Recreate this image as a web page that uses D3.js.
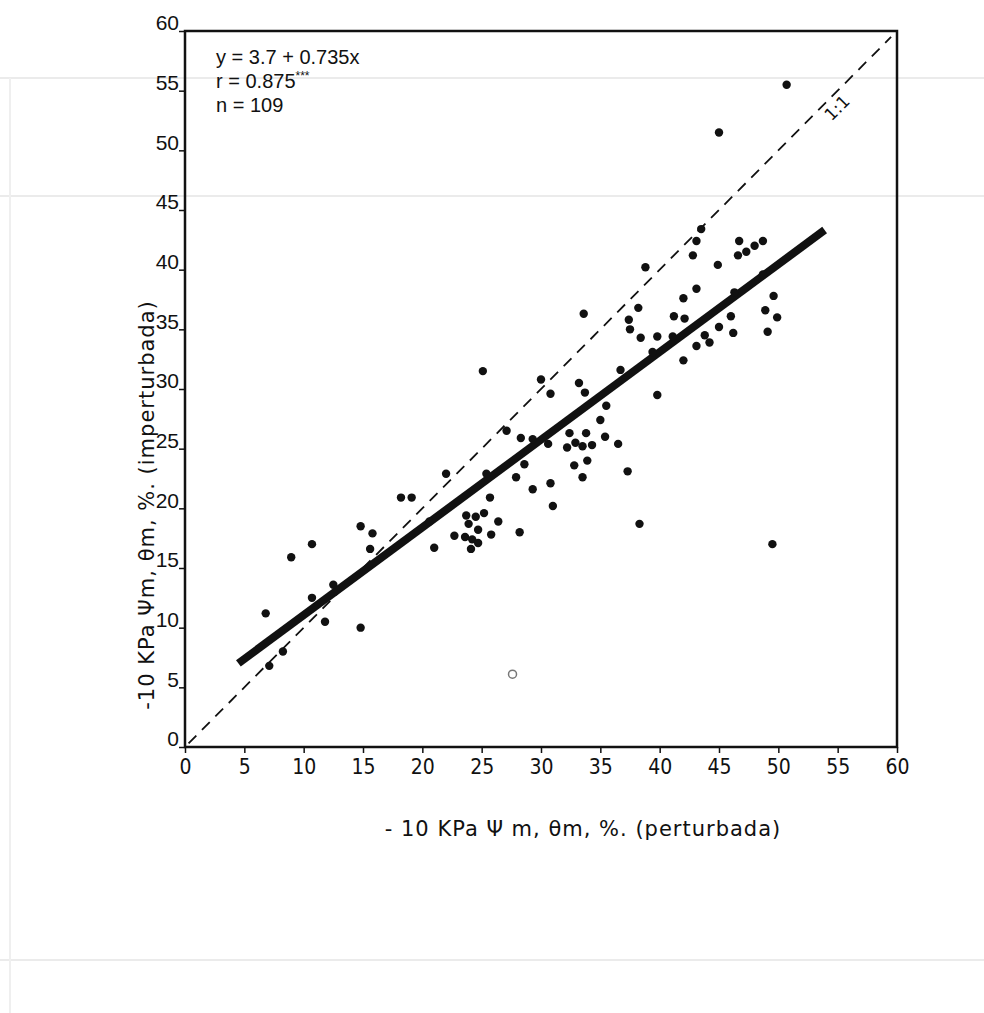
<!DOCTYPE html>
<html>
<head>
<meta charset="utf-8">
<script src="https://cdn.jsdelivr.net/npm/d3@7"></script>
<style>
  body { margin: 0; background: #fff; }
  svg { display: block; }
</style>
</head>
<body>
<div class="chart"></div>
<script>
// values (x = perturbada, y = imperturbada)
const xValues = [6.8, 7.1, 8.25, 8.95, 10.7, 10.7, 11.8, 12.5, 14.8, 14.8, 15.6, 15.8, 18.2, 19.1, 20.6, 21.0, 22.0,
    22.7, 23.6, 23.7, 23.9, 24.1, 24.2, 24.5, 24.7, 24.7, 25.2, 25.8, 25.7, 26.4, 28.2, 25.1, 25.4, 27.1, 27.9, 28.3,
    28.6, 29.3, 29.3, 30.0, 30.8, 30.6, 30.8, 31.0, 32.4, 33.8, 35.4, 36.5, 32.2, 32.9, 33.5, 34.3, 32.8, 33.9, 33.5,
    37.3, 35.0, 35.5, 33.2, 33.7, 36.7, 39.8, 38.3, 33.6, 38.2, 37.4, 37.5, 38.4, 39.8, 41.1, 39.4, 41.2, 42.1, 42.0,
    42.0, 43.1, 43.8, 38.8, 43.5, 43.1, 42.8, 46.7, 46.6, 47.3, 48.0, 48.7, 44.9, 43.1, 48.7, 46.3, 49.6, 48.9, 49.9,
    49.1, 46.0, 45.0, 46.2, 44.2, 50.7, 45.0, 49.5];
const yValues = [11.2, 6.8, 8.0, 15.9, 17.0, 12.5, 10.5, 13.6, 18.5, 10.0, 16.6, 17.9, 20.9, 20.9, 18.9, 16.7, 22.9,
    17.7, 17.6, 19.4, 18.7, 16.6, 17.4, 19.3, 18.2, 17.1, 19.6, 17.8, 20.9, 18.9, 18.0, 31.5, 22.9, 26.5, 22.6, 25.9,
    23.7, 25.8, 21.6, 30.8, 29.6, 25.4, 22.1, 20.2, 26.3, 26.3, 26.0, 25.4, 25.1, 25.5, 25.2, 25.3, 23.6, 24.0, 22.6,
    23.1, 27.4, 28.6, 30.5, 29.7, 31.6, 29.5, 18.7, 36.3, 36.8, 35.8, 35.0, 34.3, 34.4, 34.4, 33.1, 36.1, 35.9, 37.6,
    32.4, 33.6, 34.5, 40.2, 43.4, 42.4, 41.2, 42.4, 41.2, 41.5, 42.0, 42.4, 40.4, 38.4, 39.6, 38.1, 37.8, 36.6, 36.0,
    34.8, 36.1, 35.2, 34.7, 33.9, 55.5, 51.5, 17.0];
// faint open ring near the bottom
const ringPoint = [27.6, 6.1];

const xTicks = [0, 5, 10, 15, 20, 25, 30, 35, 40, 45, 50, 55, 60];
const yTicks = [0, 5, 10, 15, 20, 25, 30, 35, 40, 45, 50, 55, 60];

const fitIntercept = 3.7;
const fitSlope = 0.735;
const fitRange = [4.5, 53.9];
const statLines = ['y = 3.7 + 0.735x', 'r = 0.875', 'n = 109'];

const xTitle = '- 10  KPa \u03A8 m, \u03B8m, %. (perturbada)';
const yTitle = '-10 KPa \u03A8m, \u03B8m, %. (imperturbada)';

const draw = () => {
    const w = 984, h = 1013;
    const x = d3.scaleLinear().domain([0, 60]).range([185, 897]);
    const y = d3.scaleLinear().domain([0, 60]).range([747, 31]);

    var svg = d3.select('.chart').append('svg')
        .attr('width', w)
        .attr('height', h);

    // faint scan rules from the page behind the figure
    const bg = svg.append('g').attr('stroke', '#ebebeb').attr('stroke-width', 2);
    [78, 196, 960].forEach(yy => bg.append('line').attr('x1', 0).attr('x2', w).attr('y1', yy).attr('y2', yy));
    bg.append('line').attr('x1', 10).attr('x2', 10).attr('y1', 78).attr('y2', h).attr('stroke', '#efefef');

    // frame
    svg.append('rect')
        .attr('x', x(0)).attr('y', y(60))
        .attr('width', x(60) - x(0)).attr('height', y(0) - y(60))
        .attr('fill', 'none').attr('stroke', '#111').attr('stroke-width', 2.5);

    const xAxis = svg.append('g')
        .attr('transform', `translate(0,${y(0)})`)
        .call(d3.axisBottom(x).tickValues(xTicks).tickSize(6).tickFormat(d3.format('d')));
    xAxis.select('.domain').remove();
    xAxis.selectAll('line').attr('stroke', '#111').attr('stroke-width', 1.5);
    xAxis.selectAll('text')
        .attr('font-family', '"DejaVu Sans", sans-serif')
        .attr('font-stretch', 'condensed')
        .attr('font-size', 21).attr('fill', '#111').attr('dy', '0.85em');

    const yAxis = svg.append('g')
        .attr('transform', `translate(${x(0)},0)`)
        .call(d3.axisLeft(y).tickValues(yTicks).tickSize(6).tickFormat(d3.format('d')));
    yAxis.select('.domain').remove();
    yAxis.selectAll('line').attr('stroke', '#111').attr('stroke-width', 1.5);
    yAxis.selectAll('text')
        .attr('font-family', '"Liberation Sans", Arial, sans-serif')
        .attr('font-size', 21).attr('fill', '#111').attr('dy', '-0.05em').attr('x', -6);

    // 1:1 line
    svg.append('line')
        .attr('x1', x(0.3)).attr('y1', y(0.3))
        .attr('x2', x(59.5)).attr('y2', y(59.5))
        .attr('stroke', '#111').attr('stroke-width', 1.8)
        .attr('stroke-dasharray', '11,8');
    svg.append('text')
        .attr('transform', `translate(${x(55.3)},${y(53.2)}) rotate(-45)`)
        .attr('text-anchor', 'middle')
        .attr('font-family', '"DejaVu Sans", sans-serif')
        .attr('font-size', 17).attr('fill', '#111')
        .text('1:1');

    // regression line
    svg.append('line')
        .attr('x1', x(fitRange[0])).attr('y1', y(fitIntercept + fitSlope * fitRange[0]))
        .attr('x2', x(fitRange[1])).attr('y2', y(fitIntercept + fitSlope * fitRange[1]))
        .attr('stroke', '#111').attr('stroke-width', 8);

    svg.append('g')
        .selectAll('circle')
        .data(d3.zip(xValues, yValues))
        .join('circle')
        .attr('cx', d => x(d[0]))
        .attr('cy', d => y(d[1]))
        .attr('r', 4.2)
        .attr('fill', '#111');

    svg.append('circle')
        .attr('cx', x(ringPoint[0])).attr('cy', y(ringPoint[1]))
        .attr('r', 4).attr('fill', 'none')
        .attr('stroke', '#777').attr('stroke-width', 1.5);

    // stats text
    const stats = svg.append('g')
        .attr('font-family', '"Liberation Sans", Arial, sans-serif')
        .attr('font-size', 20).attr('fill', '#111');
    statLines.forEach((s, i) => {
        const t = stats.append('text').attr('x', 216).attr('y', 64 + i * 24).text(s);
        if (i == 1) t.append('tspan').attr('dy', -8).attr('font-size', 12).text('***');
    });

    // axis titles
    svg.append('text')
        .attr('x', 583).attr('y', 836)
        .attr('text-anchor', 'middle')
        .attr('font-family', '"DejaVu Sans", sans-serif')
        .attr('font-size', 21).attr('letter-spacing', 1).attr('fill', '#111')
        .text(xTitle);

    svg.append('text')
        .attr('transform', 'translate(154,505) rotate(-90)')
        .attr('text-anchor', 'middle')
        .attr('font-family', '"DejaVu Sans", sans-serif')
        .attr('font-size', 21).attr('letter-spacing', 1).attr('fill', '#111')
        .text(yTitle);
}

draw();
</script>
</body>
</html>
